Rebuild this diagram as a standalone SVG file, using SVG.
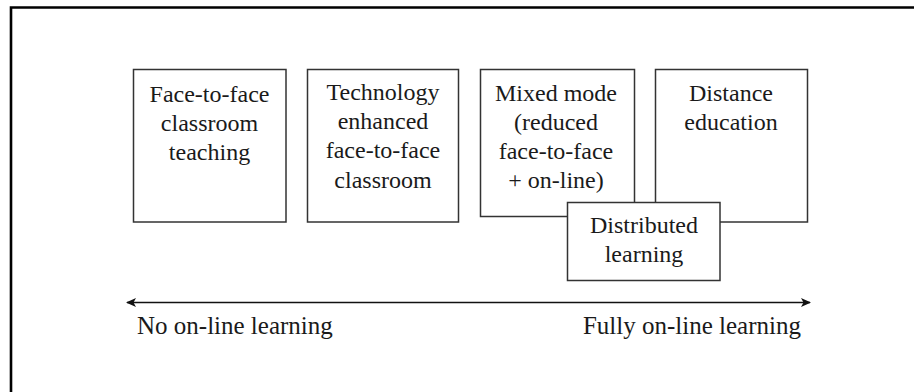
<svg xmlns="http://www.w3.org/2000/svg" width="914" height="392" viewBox="0 0 914 392">
  <style>
    .box { fill: #ffffff; stroke: #333333; stroke-width: 1.5; }
    text { font-family: 'Liberation Serif', 'Times New Roman', Times, 'DejaVu Serif', serif; }
    .t { font-size: 24px; fill: #1a1a1a; text-anchor: middle; }
    .lbl { font-size: 25px; fill: #1a1a1a; }
    .frame { stroke: #000000; stroke-width: 2.6; fill: none; }
    .axis { stroke: #111111; stroke-width: 1.6; fill: none; }
  </style>
  <defs>
    <marker id="arr" viewBox="0 0 10 10" refX="9" refY="5" markerUnits="userSpaceOnUse" markerWidth="11" markerHeight="10" orient="auto-start-reverse">
      <path d="M0,0.5 L10,5 L0,9.5 L2.5,5 Z" fill="#111111"/>
    </marker>
  </defs>
  <rect x="0" y="0" width="914" height="392" fill="#ffffff"/>
  <g id="frame">
    <path class="frame" d="M11,392 L11,7.5 L914,7.5"/>
  </g>
  <g id="connectors">
    <line class="axis" x1="127" y1="302.5" x2="810" y2="302.5" marker-start="url(#arr)" marker-end="url(#arr)"/>
  </g>
  <g id="node-face-to-face">
    <rect class="box" x="133.5" y="69.5" width="152.5" height="152.5"/>
    <text class="t" x="209.5" y="102">Face-to-face</text>
    <text class="t" x="209.5" y="131">classroom</text>
    <text class="t" x="209.5" y="160">teaching</text>
  </g>
  <g id="node-technology-enhanced">
    <rect class="box" x="307.5" y="69.5" width="151" height="152.5"/>
    <text class="t" x="383" y="100">Technology</text>
    <text class="t" x="383" y="129">enhanced</text>
    <text class="t" x="383" y="158">face-to-face</text>
    <text class="t" x="383" y="187.5">classroom</text>
  </g>
  <g id="node-mixed-mode">
    <rect class="box" x="480.5" y="69.5" width="154" height="147"/>
    <text class="t" x="556" y="101">Mixed mode</text>
    <text class="t" x="556" y="130">(reduced</text>
    <text class="t" x="556" y="158.5">face-to-face</text>
    <text class="t" x="556" y="187.5">+ on-line)</text>
  </g>
  <g id="node-distance-education">
    <rect class="box" x="655.5" y="69.5" width="152" height="152.5"/>
    <text class="t" x="731" y="101">Distance</text>
    <text class="t" x="731" y="130">education</text>
  </g>
  <g id="node-distributed-learning">
    <rect class="box" x="567.5" y="202.5" width="152.5" height="78"/>
    <text class="t" x="644" y="232.5">Distributed</text>
    <text class="t" x="644" y="261.5">learning</text>
  </g>
  <g id="label-no-online">
    <text class="lbl" x="137" y="334">No on-line learning</text>
  </g>
  <g id="label-fully-online">
    <text class="lbl" x="801" y="334" text-anchor="end">Fully on-line learning</text>
  </g>
</svg>
